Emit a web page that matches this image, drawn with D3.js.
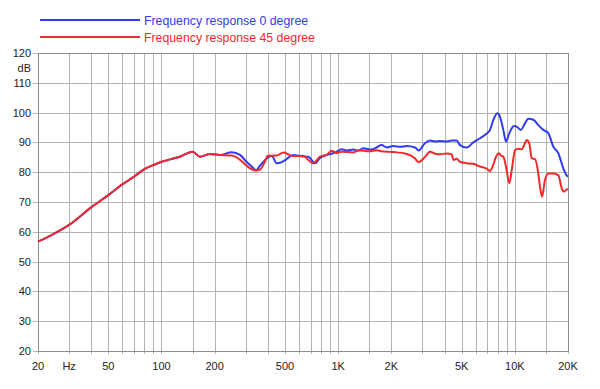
<!DOCTYPE html>
<html>
  <head>
    <meta charset="utf-8">
    <title>Frequency response</title>
    <style>
      body { margin: 0; background-color: white; }
      svg text { font-family: "Liberation Sans", Arial, Helvetica, sans-serif; }
    </style>
    <script src="https://d3js.org/d3.v7.min.js"></script>
  </head>
  <body>
    <svg id="chart"></svg>
    <script>
      var width = 600;
      var height = 389;

      // grid + tick values
      var gridFreqs = [20, 30, 40, 50, 60, 70, 80, 90, 100, 150, 200, 300, 400, 500, 600, 700, 800, 900,
        1000, 1500, 2000, 3000, 4000, 5000, 6000, 7000, 8000, 9000, 10000, 15000, 20000];
      var xLabelFreqs = [20, 30, 50, 100, 200, 500, 1000, 2000, 5000, 10000, 20000];
      var xLabelTexts = ["20", "Hz", "50", "100", "200", "500", "1K", "2K", "5K", "10K", "20K"];
      var dbTicks = [20, 30, 40, 50, 60, 70, 80, 90, 100, 110, 120];

      var seriesNames = ["Frequency response 0 degree", "Frequency response 45 degree"];
      var seriesColors = ["#2f3cf0", "#f02a2a"];

      // [Hz, dB]
      var resp0 = [[20, 56.7], [24, 59.0], [30, 62.3], [40, 68.2], [50, 72.3], [60, 75.9], [70, 78.5],
        [80, 81.0], [90, 82.4], [100, 83.5], [112, 84.3], [127, 85.2], [150, 86.9], [165, 85.2],
        [188, 86.1], [214, 85.8], [250, 86.7], [278, 85.8], [303, 83.5], [324, 81.9], [343, 80.7],
        [361, 82.2], [394, 84.6], [421, 85.5], [449, 83.0], [479, 83.4], [511, 84.4], [557, 85.8],
        [608, 85.4], [678, 85.2], [740, 83.0], [789, 84.8], [861, 85.8], [919, 86.2], [981, 86.9],
        [1047, 87.7], [1130, 87.3], [1218, 87.6], [1300, 87.2], [1388, 88.0], [1550, 87.6],
        [1764, 89.1], [1880, 88.3], [2052, 88.8], [2250, 88.5], [2444, 88.8], [2724, 88.3],
        [2850, 87.3], [3101, 89.7], [3309, 90.6], [3532, 90.3], [3770, 90.5], [4116, 90.3],
        [4392, 90.6], [4688, 90.6], [4895, 89.1], [5342, 88.3], [5822, 90.0], [6350, 91.4],
        [6929, 93.0], [7236, 94.2], [7553, 97.5], [7962, 99.8], [8245, 98.6], [8607, 94.2],
        [8915, 90.3], [9309, 93.1], [9895, 95.5], [10248, 95.3], [10797, 94.2], [11418, 96.4],
        [11920, 97.9], [12724, 97.6], [13580, 95.8], [14497, 94.2], [15474, 93.1], [16514, 88.6],
        [17623, 86.4], [18813, 81.3], [19800, 78.7], [20000, 78.5]];

      var resp45 = [[20, 56.7], [24, 59.0], [30, 62.3], [40, 68.2], [50, 72.3], [60, 75.9], [70, 78.5],
        [80, 81.0], [90, 82.4], [100, 83.5], [112, 84.3], [127, 85.2], [150, 86.9], [165, 85.2],
        [188, 86.1], [214, 85.8], [250, 85.6], [278, 84.2], [303, 82.2], [324, 81.0], [343, 80.6],
        [361, 80.9], [385, 83.5], [400, 85.5], [449, 85.6], [490, 86.6], [530, 85.8], [557, 85.4],
        [635, 85.5], [678, 84.1], [723, 83.0], [789, 85.2], [861, 85.8], [919, 87.2], [981, 86.4],
        [1047, 86.9], [1218, 86.6], [1300, 87.4], [1500, 87.0], [1650, 87.4], [1764, 87.0],
        [2052, 86.8], [2444, 86.1], [2724, 84.6], [2843, 83.4], [3101, 85.1], [3309, 86.9],
        [3532, 86.2], [3770, 86.0], [4116, 86.3], [4392, 86.0], [4495, 84.1], [4688, 84.5],
        [4895, 83.5], [5342, 83.0], [5822, 82.8], [6350, 81.9], [6929, 81.2], [7236, 80.4],
        [7553, 82.5], [7800, 85.0], [8100, 86.4], [8400, 85.5], [8607, 85.2], [8915, 81.9],
        [9309, 76.3], [9604, 80.7], [10024, 87.4], [10463, 87.9], [10937, 87.7], [11418, 89.7],
        [11675, 90.8], [12077, 89.7], [12462, 84.7], [13010, 84.4], [13580, 79.6], [13886, 75.1],
        [14252, 71.8], [14822, 77.4], [15474, 79.6], [16514, 79.6], [17623, 79.0], [18424, 74.6],
        [18984, 73.5], [19800, 74.3], [20000, 74.3]];

      var plotLeft = 38, plotRight = 568, plotTop = 53, plotBottom = 351;

      var x = d3.scaleLog().domain([20, 20000]).range([plotLeft, plotRight]);
      var y = d3.scaleLinear().domain([20, 120]).range([plotBottom, plotTop]);

      var svg = d3.select("#chart")
          .attr("width", width)
          .attr("height", height);

      // grid
      svg.append("g").selectAll("line")
        .data(gridFreqs)
        .enter().append("line")
        .attr("x1", function(d) { return Math.round(x(d)) + 0.5; })
        .attr("x2", function(d) { return Math.round(x(d)) + 0.5; })
        .attr("y1", plotTop)
        .attr("y2", plotBottom + 3)
        .attr("stroke", "#b4b4b4")
        .attr("stroke-width", 1);

      svg.append("g").selectAll("line")
        .data(dbTicks)
        .enter().append("line")
        .attr("x1", plotLeft - 5)
        .attr("x2", plotRight)
        .attr("y1", function(d) { return Math.round(y(d)) + 0.5; })
        .attr("y2", function(d) { return Math.round(y(d)) + 0.5; })
        .attr("stroke", "#b4b4b4")
        .attr("stroke-width", 1);

      // frame
      svg.append("rect")
        .attr("x", plotLeft + 0.5)
        .attr("y", Math.round(plotTop) + 0.5)
        .attr("width", Math.round(plotRight - plotLeft))
        .attr("height", Math.round(plotBottom - plotTop))
        .attr("fill", "none")
        .attr("stroke", "#8c8c8c")
        .attr("stroke-width", 1);

      // y labels
      svg.append("g").selectAll("text")
        .data(dbTicks)
        .enter().append("text")
        .attr("x", 31)
        .attr("y", function(d) { return y(d) + 4; })
        .attr("text-anchor", "end")
        .attr("font-size", 11)
        .attr("fill", "#222")
        .text(function(d) { return d; });

      svg.append("text")
        .attr("x", 31)
        .attr("y", y(115) + 4)
        .attr("text-anchor", "end")
        .attr("font-size", 11)
        .attr("fill", "#222")
        .text("dB");

      // x labels
      svg.append("g").selectAll("text")
        .data(xLabelFreqs)
        .enter().append("text")
        .attr("x", function(d) { return x(d); })
        .attr("y", 370)
        .attr("text-anchor", "middle")
        .attr("font-size", 11)
        .attr("fill", "#222")
        .text(function(d, i) { return xLabelTexts[i]; });

      // curves
      var line = d3.line()
        .x(function(d) { return x(d[0]); })
        .y(function(d) { return y(d[1]); })
        .curve(d3.curveMonotoneX);

      [resp0, resp45].forEach(function(s, i) {
        svg.append("path")
          .datum(s)
          .attr("d", line)
          .attr("fill", "none")
          .attr("stroke", seriesColors[i])
          .attr("stroke-width", 2)
          .attr("stroke-linejoin", "round");
      });

      // legend
      var legend = svg.append("g");
      seriesNames.forEach(function(name, i) {
        var ly = 20 + i * 17;
        legend.append("line")
          .attr("x1", 40).attr("x2", 140)
          .attr("y1", ly).attr("y2", ly)
          .attr("stroke", seriesColors[i])
          .attr("stroke-width", 2);
        legend.append("text")
          .attr("x", 144)
          .attr("y", ly + 4.5)
          .attr("font-size", 12.3)
          .attr("fill", seriesColors[i])
          .text(name);
      });
    </script>
  </body>
</html>
